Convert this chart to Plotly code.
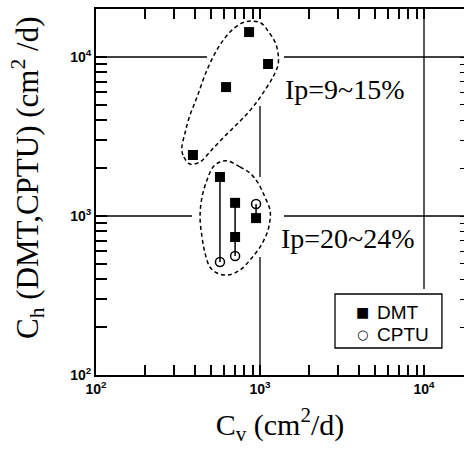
import plotly.graph_objects as go

# Coefficients of consolidation (cm^2/d): horizontal ch vs vertical cv
cv_dmt = [858, 1120, 621, 390, 570, 705, 705, 946]
ch_dmt = [14350, 9040, 6470, 2420, 1760, 1210, 738, 970]
cv_cptu = [570, 705, 946]
ch_cptu = [514, 560, 1189]

# Hand-drawn outline around the Ip = 9~15% group
loop_hi_cv = [374, 339, 334, 349, 369, 413, 475, 555, 656, 776, 881, 1014, 1119,
              1234, 1288, 1288, 1200, 1072, 946, 822, 705, 586, 495, 431, 374]
loop_hi_ch = [2123, 2420, 2718, 3326, 4130, 5600, 8280, 11400, 14350, 16370, 16830,
              16370, 14590, 12420, 10590, 8910, 7490, 6190, 5140, 4320, 3680, 3050,
              2530, 2188, 2123]

# Hand-drawn outline around the Ip = 20~24% group
loop_lo_cv = [638, 755, 869, 972, 1072, 1151, 1151, 1104, 1000, 869, 755, 638, 547,
              495, 462, 443, 431, 443, 475, 517, 570, 638]
loop_lo_ch = [2218, 2033, 1862, 1614, 1316, 1091, 944, 782, 638, 528, 457, 425, 438,
              478, 585, 738, 986, 1316, 1682, 2033, 2188, 2218]

group_labels = ["Ip=9~15%", "Ip=20~24%"]
series_names = ["DMT", "CPTU"]
series_glyphs = ["\u25A0", "\u25CB"]

# Tick marks at every 1..9 x 10^n; only the decades carry a label
x_tick_vals = [m * 10 ** e for e in (2, 3) for m in range(1, 10)] + [10000]
y_tick_vals = [m * 10 ** e for e in (2, 3) for m in range(1, 10)] + [10000, 20000]
decade_text = {100: "10<sup>2</sup>", 1000: "10<sup>3</sup>", 10000: "10<sup>4</sup>"}
x_tick_text = [decade_text.get(v, "") for v in x_tick_vals]
y_tick_text = [decade_text.get(v, "") for v in y_tick_vals]

X_RANGE = [2, 4.2439]
Y_RANGE = [2, 4.302]
X_END = 10 ** X_RANGE[1]
Y_END = 10 ** Y_RANGE[1]

# Reference lines at the decades, left open where they would cross the groups
grid_segments = [
    ((100, 1e4), (475, 1e4)), ((1400, 1e4), (X_END, 1e4)),
    ((100, 1e3), (385, 1e3)), ((1400, 1e3), (X_END, 1e3)),
    ((1e3, 100), (1e3, 552)), ((1e3, 1758), (1e3, 4920)),
    ((1e4, 348), (1e4, Y_END)),
]
gx, gy = [], []
for (x0, y0), (x1, y1) in grid_segments:
    gx += [x0, x1, None]
    gy += [y0, y1, None]

# Vertical connectors between DMT and CPTU results at the same site
cx, cy = [], []
for cv, ch in zip(cv_cptu, ch_cptu):
    vals = [c for v, c in zip(cv_dmt, ch_dmt) if v == cv] + [ch]
    cx += [cv, cv, None]
    cy += [min(vals), max(vals), None]

fig = go.Figure()
fig.add_trace(go.Scatter(x=gx, y=gy, mode="lines", yaxis="y2",
                         line=dict(color="black", width=1.3),
                         hoverinfo="skip", showlegend=False))
for lx, ly in ((loop_hi_cv, loop_hi_ch), (loop_lo_cv, loop_lo_ch)):
    fig.add_trace(go.Scatter(x=lx, y=ly, mode="lines",
                             line=dict(color="black", width=1.5, dash="4px,3px",
                                       shape="spline", smoothing=1),
                             hoverinfo="skip", showlegend=False))
fig.add_trace(go.Scatter(x=cx, y=cy, mode="lines", yaxis="y3",
                         line=dict(color="black", width=1.5),
                         hoverinfo="skip", showlegend=False))
fig.add_trace(go.Scatter(x=cv_dmt, y=ch_dmt, mode="markers", name=series_names[0],
                         showlegend=False,
                         marker=dict(symbol="square", size=10, color="black")))
fig.add_trace(go.Scatter(x=cv_cptu, y=ch_cptu, mode="markers", name=series_names[1],
                         showlegend=False,
                         marker=dict(symbol="circle-open", size=9, color="black",
                                     line=dict(width=1.5))))

tick_font = dict(family="Liberation Sans", size=14, color="black", weight="bold")
serif = "Liberation Serif"

# Key box in the lower right corner of the plot
key_left, key_right, key_top, key_bottom = 0.6495, 0.940, 0.2213, 0.0738
key_rows = [0.172, 0.112]
key_glyph_x, key_text_x = 0.724, 0.758
key_glyph_sizes = [14, 13]

annotations = [
    dict(text="C<sub>h</sub> (DMT,CPTU) (cm<sup>2</sup> /d)", textangle=-90,
         xref="paper", yref="paper", x=-0.185, y=0.538, showarrow=False,
         xanchor="center", yanchor="middle",
         font=dict(family=serif, size=31, color="black")),
    dict(text=group_labels[0], xref="paper", yref="paper", x=0.677, y=0.779,
         xanchor="center", yanchor="middle",
         showarrow=False, font=dict(family=serif, size=28, color="black")),
    dict(text=group_labels[1], xref="paper", yref="paper", x=0.685, y=0.374,
         xanchor="center", yanchor="middle",
         showarrow=False, font=dict(family=serif, size=28, color="black")),
]
for name, glyph, gsize, ky in zip(series_names, series_glyphs, key_glyph_sizes, key_rows):
    annotations.append(dict(text=glyph, xref="paper", yref="paper", x=key_glyph_x, y=ky,
                            xanchor="center", yanchor="middle", showarrow=False,
                            font=dict(family="DejaVu Sans", size=gsize, color="black")))
    annotations.append(dict(text=name, xref="paper", yref="paper", x=key_text_x, y=ky,
                            xanchor="left", yanchor="middle", showarrow=False,
                            font=dict(family="Liberation Sans", size=19, color="black")))

fig.update_layout(
    width=464, height=449,
    margin=dict(l=96, r=0, t=9, b=74),
    paper_bgcolor="white", plot_bgcolor="white",
    showlegend=False,
    xaxis=dict(type="log", range=X_RANGE, showgrid=False, zeroline=False,
               showline=True, linecolor="black", linewidth=2, mirror="ticks",
               ticks="inside", ticklen=10, tickwidth=1.5, tickcolor="black",
               tickmode="array", tickvals=x_tick_vals, ticktext=x_tick_text,
               tickfont=tick_font,
               title=dict(text="C<sub>v</sub> (cm<sup>2</sup>/d)",
                          font=dict(family=serif, size=30, color="black"),
                          standoff=18)),
    yaxis=dict(type="log", range=Y_RANGE, showgrid=False, zeroline=False,
               showline=True, linecolor="black", linewidth=2,
               ticks="inside", ticklen=11, tickwidth=1.5, tickcolor="black",
               tickmode="array", tickvals=y_tick_vals, ticktext=y_tick_text,
               tickfont=tick_font),
    yaxis2=dict(type="log", range=Y_RANGE, overlaying="y", side="right",
                showgrid=False, zeroline=False, showline=False,
                ticks="inside", ticklen=4, tickwidth=1.3, tickcolor="black",
                tickmode="array", tickvals=y_tick_vals, showticklabels=False),
    yaxis3=dict(type="log", range=Y_RANGE, overlaying="y", side="left",
                showgrid=False, zeroline=False, showline=False,
                ticks="inside", ticklen=11, tickwidth=1.5, tickcolor="black",
                tickmode="array", tickvals=y_tick_vals, showticklabels=False),
    shapes=[dict(type="rect", xref="paper", yref="paper",
                 x0=key_left, x1=key_right, y0=key_bottom, y1=key_top,
                 line=dict(color="black", width=1.3), fillcolor="white", layer="above")],
    annotations=annotations,
)

fig.write_html("out.html")
